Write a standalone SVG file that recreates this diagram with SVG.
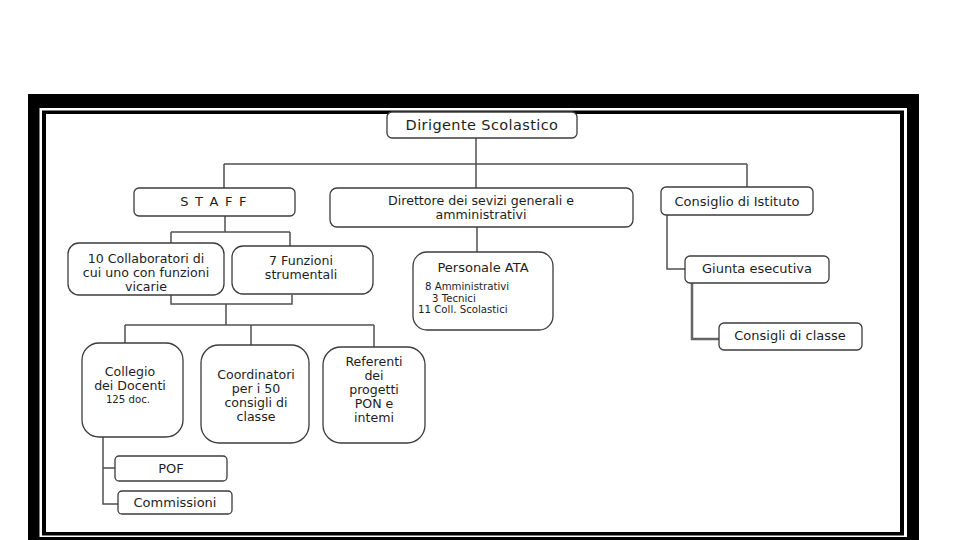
<svg xmlns="http://www.w3.org/2000/svg" width="960" height="540" viewBox="0 0 960 540">
<style>
.box{fill:#fff;stroke:#3c3c3c;stroke-width:1.3}
.t{font-family:"DejaVu Sans",Verdana,sans-serif;font-size:13px;fill:#1e1e1e;text-anchor:middle}
.m{font-size:12.6px}
.s{font-family:"DejaVu Sans",Verdana,sans-serif;font-size:10.2px;fill:#1e1e1e}
#connectors path{fill:none;stroke:#505050;stroke-width:1.5}
</style>
<rect width="960" height="540" fill="#fff"/>
<g id="frame">
<rect x="28" y="94" width="891" height="446" fill="#000"/>
<rect x="39.5" y="108" width="867.5" height="429" fill="#fff"/>
<rect x="42" y="110.5" width="862" height="425" fill="#000"/>
<rect x="46" y="114" width="854" height="418" fill="#fff"/>
</g>
<g id="connectors">
<path d="M476 138V188M224 164H747M224 164V188M747 164V187"/>
<path d="M225 216V232M171 232H290M171 232V243M290 232V246"/>
<path d="M171 295V304H292V295M226 304V325M125 325H374M125 325V343M251 325V345M374 325V347"/>
<path d="M103 437V504H118M103 468H115"/>
<path d="M477 227V252"/>
<path d="M667 215V269H685"/>
<path d="M692 283V339H719" style="stroke-width:2.5;stroke:#666"/>
</g>
<g id="dirigente"><rect class="box" x="387" y="112" width="190" height="26" rx="5"/><text class="t" x="482" y="130" style="font-size:14.5px;letter-spacing:0.4px">Dirigente Scolastico</text></g>
<g id="staff"><rect class="box" x="134" y="188" width="161" height="28" rx="5"/><text class="t" x="214" y="206" style="letter-spacing:1.2px">S T A F F</text></g>
<g id="direttore"><rect class="box" x="330" y="188" width="303" height="39" rx="7"/><text class="t m" x="481" y="205">Direttore dei sevizi generali e</text><text class="t m" x="481" y="219">amministrativi</text></g>
<g id="consiglio-istituto"><rect class="box" x="661" y="187" width="152" height="28" rx="5"/><text class="t" x="737" y="206">Consiglio di Istituto</text></g>
<g id="collaboratori"><rect class="box" x="68" y="243" width="156" height="52" rx="11"/><text class="t m" x="146" y="263">10 Collaboratori di</text><text class="t m" x="146" y="277">cui uno con funzioni</text><text class="t m" x="146" y="291">vicarie</text></g>
<g id="funzioni"><rect class="box" x="232" y="246" width="141" height="48" rx="11"/><text class="t m" x="301" y="265">7 Funzioni</text><text class="t m" x="301" y="279">strumentali</text></g>
<g id="personale-ata"><rect class="box" x="413" y="252" width="140" height="78" rx="14"/><text class="t" x="483" y="272">Personale ATA</text><text class="s" x="425" y="290">8 Amministrativi</text><text class="s" x="432" y="301.5">3 Tecnici</text><text class="s" x="418" y="313">11 Coll. Scolastici</text></g>
<g id="giunta"><rect class="box" x="685" y="256" width="144" height="27" rx="5"/><text class="t" x="757" y="273">Giunta esecutiva</text></g>
<g id="consigli-classe"><rect class="box" x="719" y="323" width="143" height="27" rx="5"/><text class="t" x="790" y="340">Consigli di classe</text></g>
<g id="collegio"><rect class="box" x="82" y="343" width="101" height="94" rx="17"/><text class="t m" x="130" y="376">Collegio</text><text class="t m" x="130" y="390">dei Docenti</text><text class="s" x="128" y="403" text-anchor="middle">125 doc.</text></g>
<g id="coordinatori"><rect class="box" x="201" y="345" width="108" height="98" rx="18"/><text class="t m" x="256" y="379">Coordinatori</text><text class="t m" x="256" y="393">per i 50</text><text class="t m" x="256" y="407">consigli di</text><text class="t m" x="256" y="421">classe</text></g>
<g id="referenti"><rect class="box" x="323" y="347" width="102" height="96" rx="18"/><text class="t m" x="374" y="366">Referenti</text><text class="t m" x="374" y="380">dei</text><text class="t m" x="374" y="394">progetti</text><text class="t m" x="374" y="408">PON e</text><text class="t m" x="374" y="422">intemi</text></g>
<g id="pof"><rect class="box" x="115" y="456" width="112" height="25" rx="4"/><text class="t" x="171" y="473">POF</text></g>
<g id="commissioni"><rect class="box" x="118" y="491" width="114" height="23" rx="4"/><text class="t" x="175" y="507">Commissioni</text></g>
</svg>
